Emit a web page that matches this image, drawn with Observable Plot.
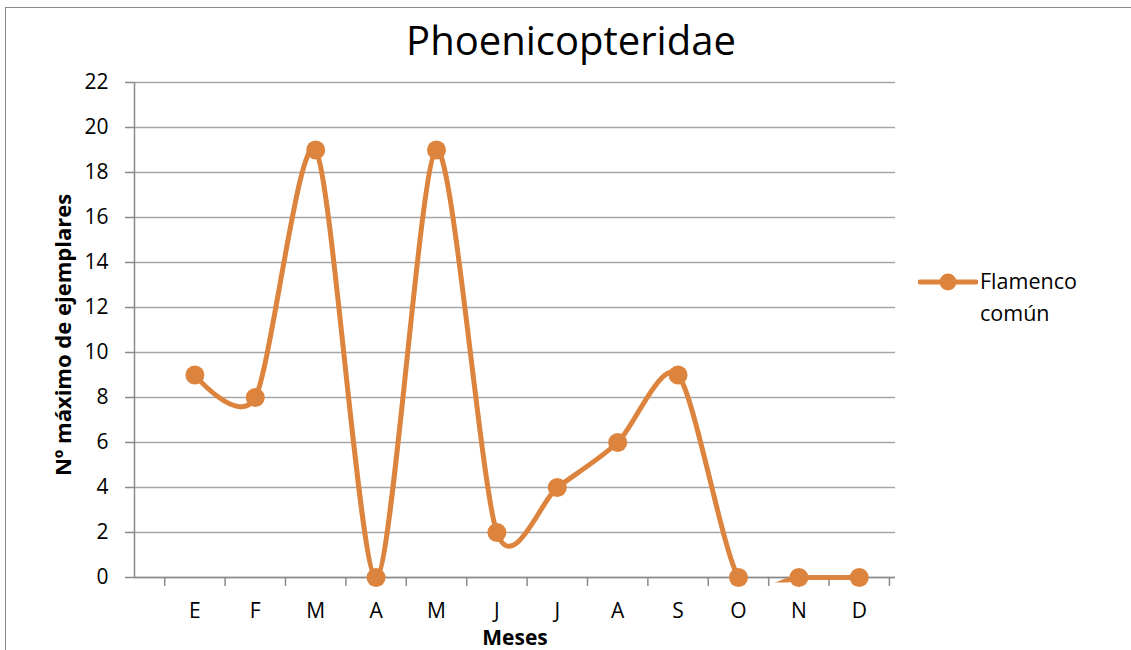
<!DOCTYPE html>
<html>
<head>
<meta charset="utf-8">
<script src="https://cdn.jsdelivr.net/npm/d3@7"></script>
<script src="https://cdn.jsdelivr.net/npm/@observablehq/plot@0.6"></script>
<style>
  html, body { margin: 0; padding: 0; background: #fff; }
  #wrap { position: relative; width: 1131px; height: 650px; overflow: hidden; font-family: "Open Sans", Lato, sans-serif; }
  #border { position: absolute; left: 5px; top: 7px; width: 1200px; height: 700px; border: 1.5px solid #8a8a8a; box-sizing: border-box; }
  #title { position: absolute; left: 321px; width: 500px; top: 15px; text-align: center; font-size: 40px; line-height: 50px; color: #000; }
  #ytitle { position: absolute; left: 62px; top: 335px; transform: translate(-50%, -50%) rotate(-90deg); white-space: nowrap; font-weight: bold; font-size: 22px; color: #000; }
  #xtitle { position: absolute; left: 515px; top: 623px; transform: translateX(-50%); font-weight: bold; font-size: 21px; line-height: 28px; color: #000; }
  #legend { position: absolute; left: 918px; top: 266px; display: flex; align-items: flex-start; }
  #legend .lbl { font-size: 21.5px; line-height: 32px; color: #000; margin-left: 2px; margin-top: -1px; }
  #chart { position: absolute; left: 0; top: 0; }
</style>
</head>
<body>
<div id="wrap">
  <div id="border"></div>
  <div id="chart"></div>
  <div id="title">Phoenicopteridae</div>
  <div id="ytitle">Nº máximo de ejemplares</div>
  <div id="xtitle">Meses</div>
  <div id="legend"></div>
</div>
<script>
const months = ["E", "F", "M", "A", "M", "J", "J", "A", "S", "O", "N", "D"];
const flamencoComun = [9, 8, 19, 0, 19, 2, 4, 6, 9, 0, 0, 0];
const yTicks = [0, 2, 4, 6, 8, 10, 12, 14, 16, 18, 20, 22];
const seriesName = "Flamenco común";
const color = "#dc843d";

const data = months.map((m, i) => ({i: i + 1, month: m, value: flamencoComun[i]}));
const monthIdx = months.map((m, i) => i + 1);
const boundaries = d3.range(0, months.length + 1).map(k => k + 0.5);

const plot = Plot.plot({
  width: 1131,
  height: 650,
  marginLeft: 134,
  marginRight: 236,
  marginTop: 82,
  marginBottom: 73,
  style: {fontFamily: "'Open Sans', Lato, sans-serif", background: "transparent", overflow: "visible"},
  x: {type: "linear", domain: [0, 12.6]},
  y: {domain: [0, 22]},
  marks: [
    Plot.gridY(yTicks, {stroke: "#a6a6a6", strokeOpacity: 1, strokeWidth: 1.5}),
    Plot.axisY(yTicks, {tickSize: 9, tickPadding: 17, stroke: "#8a8a8a", strokeWidth: 1.5, fontSize: 21, fill: "#000", label: null, tickFormat: d => String(d)}),
    Plot.ruleX([0], {stroke: "#8a8a8a", strokeWidth: 1.5}),
    Plot.ruleY([0], {stroke: "#8a8a8a", strokeWidth: 1.5}),
    Plot.axisX(boundaries, {tickSize: 9, stroke: "#8a8a8a", strokeWidth: 1.5, tickFormat: () => "", label: null}),
    Plot.axisX(monthIdx, {tickSize: 0, tickPadding: 26, fontSize: 21, fill: "#000", tickFormat: i => months[i - 1], label: null}),
    Plot.line(data, {x: "i", y: "value", curve: "cardinal", tension: 0.2, stroke: color, strokeWidth: 5, strokeLinejoin: "round"}),
    Plot.dot(data, {x: "i", y: "value", r: 9.5, fill: color, stroke: "none"})
  ]
});
document.getElementById("chart").appendChild(plot);

// clip the smoothed line to the plot area (slightly below the axis, like the original)
const xs = plot.scale("x"), ys = plot.scale("y");
const x0 = xs.range[0], x1 = xs.range[1];
const yTop = ys.apply(22), yBot = ys.apply(0) + 5;
const ns = "http://www.w3.org/2000/svg";
const defs = document.createElementNS(ns, "defs");
const cp = document.createElementNS(ns, "clipPath");
cp.setAttribute("id", "plotclip");
const rect = document.createElementNS(ns, "rect");
rect.setAttribute("x", x0); rect.setAttribute("y", yTop - 10);
rect.setAttribute("width", x1 - x0); rect.setAttribute("height", yBot - yTop + 10);
cp.appendChild(rect); defs.appendChild(cp);
plot.insertBefore(defs, plot.firstChild);
const lineG = plot.querySelector('g[aria-label="line"]');
if (lineG) lineG.setAttribute("clip-path", "url(#plotclip)");

// legend
const leg = document.getElementById("legend");
const sw = d3.create("svg").attr("width", 60).attr("height", 32);
sw.append("line").attr("x1", 2).attr("x2", 58).attr("y1", 16).attr("y2", 16)
  .attr("stroke", color).attr("stroke-width", 5).attr("stroke-linecap", "round");
sw.append("circle").attr("cx", 30).attr("cy", 16).attr("r", 8.5).attr("fill", color);
leg.appendChild(sw.node());
const lbl = document.createElement("div");
lbl.className = "lbl";
lbl.innerHTML = seriesName.split(" ").join("<br>");
leg.appendChild(lbl);
</script>
</body>
</html>
